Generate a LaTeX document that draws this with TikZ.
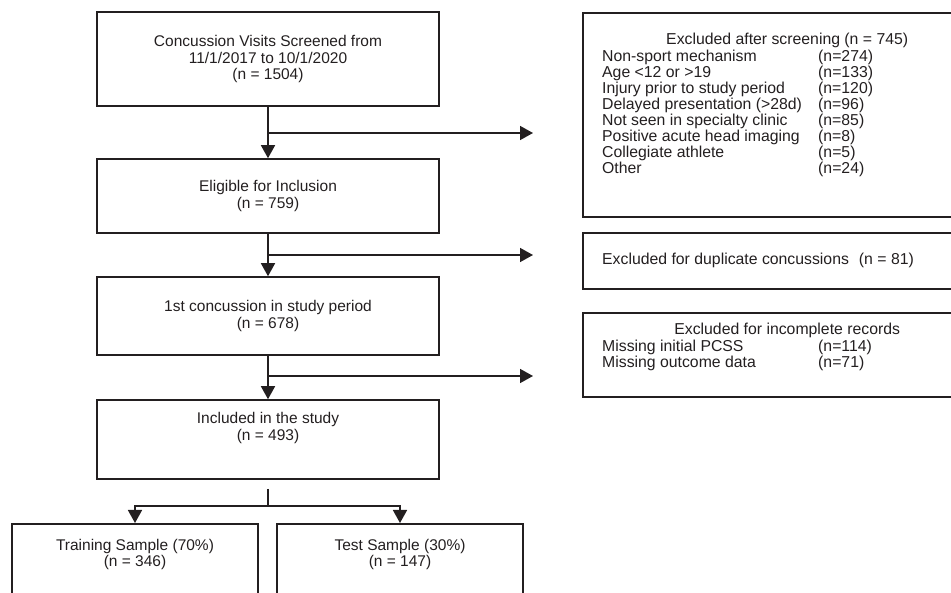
\documentclass[tikz,border=0pt]{standalone}
\usepackage{fontspec}
\setmainfont{Liberation Sans}
\usetikzlibrary{arrows.meta}
\definecolor{FlowInk}{HTML}{231F20}
\newcommand{\flowfont}{\fontsize{15.5}{16.5}\selectfont}
\newcommand{\listfont}{\fontsize{15.8}{15.25}\selectfont}
\tikzset{
  flowbox/.style={
    draw=FlowInk,
    line width=1.6pt,
    inner sep=0pt,
    align=center,
    text=FlowInk,
    font=\flowfont
  },
  mainbox/.style={flowbox, minimum width=342pt},
  samplebox/.style={flowbox, anchor=north, minimum width=246pt, minimum height=120pt},
  exbox/.style={flowbox, anchor=north west, minimum width=410pt},
  listtxt/.style={anchor=base west, inner sep=0pt, text=FlowInk, font=\listfont},
  flowline/.style={draw=FlowInk, line width=1.6pt},
  flowarrow/.style={flowline, -{Triangle[length=13pt,width=14pt]}}
}

\begin{document}
\begin{tikzpicture}[x=1pt, y=-1pt]
  \useasboundingbox (0,0) rectangle (951,593);
  \clip (0,0) rectangle (951,593);

  % main column
  \node[mainbox, minimum height=94pt] (screen) at (268,59)
    {Concussion Visits Screened from\\11/1/2017 to 10/1/2020\\(n = 1504)};
  \node[mainbox, minimum height=74pt] (elig) at (268,196)
    {Eligible for Inclusion\\(n = 759)};
  \node[mainbox, minimum height=78pt] (first) at (268,316)
    {1st concussion in study period\\(n = 678)};
  \node[mainbox, minimum height=79pt] (incl) at (268,439.5)
    {\raisebox{7pt}[0pt][0pt]{\begin{tabular}{@{}c@{}}Included in the study\\(n = 493)\end{tabular}}};
  \node[samplebox] (train) at (135,523) {\raisebox{25pt}[0pt][0pt]{\begin{tabular}{@{}c@{}}Training Sample (70\%)\\(n = 346)\end{tabular}}};
  \node[samplebox] (test) at (400,523) {\raisebox{25pt}[0pt][0pt]{\begin{tabular}{@{}c@{}}Test Sample (30\%)\\(n = 147)\end{tabular}}};

  % exclusion boxes
  \node[exbox, minimum height=204pt] (scrbox) at (582,12) {};
  \node[listtxt] (scrlist) at (602,45) {\begin{tabular}[t]{@{}p{216pt}@{}p{154pt}@{}}
    \multicolumn{2}{@{}c@{}}{Excluded after screening (n = 745)}\\
    Non-sport mechanism & (n=274)\\
    Age <12 or >19 & (n=133)\\
    Injury prior to study period & (n=120)\\
    Delayed presentation (>28d) & (n=96)\\
    Not seen in specialty clinic & (n=85)\\
    Positive acute head imaging & (n=8)\\
    Collegiate athlete & (n=5)\\
    Other & (n=24)
  \end{tabular}};
  \node[exbox, minimum height=56pt] (dupbox) at (582,232) {};
  \node[listtxt] (duplist) at (602,265)
    {Excluded for duplicate concussions\hspace{10pt}(n = 81)};
  \node[exbox, minimum height=84pt] (recbox) at (582,312) {};
  \node[listtxt] (reclist) at (602,335) {\begin{tabular}[t]{@{}p{216pt}@{}p{154pt}@{}}
    \multicolumn{2}{@{}c@{}}{Excluded for incomplete records}\\
    Missing initial PCSS & (n=114)\\
    Missing outcome data & (n=71)
  \end{tabular}};

  % connectors
  \coordinate (b1) at (268,133);
  \coordinate (e1) at (533,133);
  \coordinate (b2) at (268,255);
  \coordinate (e2) at (533,255);
  \coordinate (b3) at (268,376);
  \coordinate (e3) at (533,376);
  \draw[flowarrow] (screen.south) -- (elig.north);
  \draw[flowarrow] (elig.south) -- (first.north);
  \draw[flowarrow] (first.south) -- (incl.north);
  \draw[flowarrow] (b1) -- (e1);
  \draw[flowarrow] (b2) -- (e2);
  \draw[flowarrow] (b3) -- (e3);
  \coordinate (splittop) at ([yshift=-9pt]incl.south);
  \coordinate (splitmid) at (268,506);
  \draw[flowline] (splittop) -- (splitmid);
  \draw[flowarrow] (splitmid) -| (train.north);
  \draw[flowarrow] (splitmid) -| (test.north);
\end{tikzpicture}
\end{document}
